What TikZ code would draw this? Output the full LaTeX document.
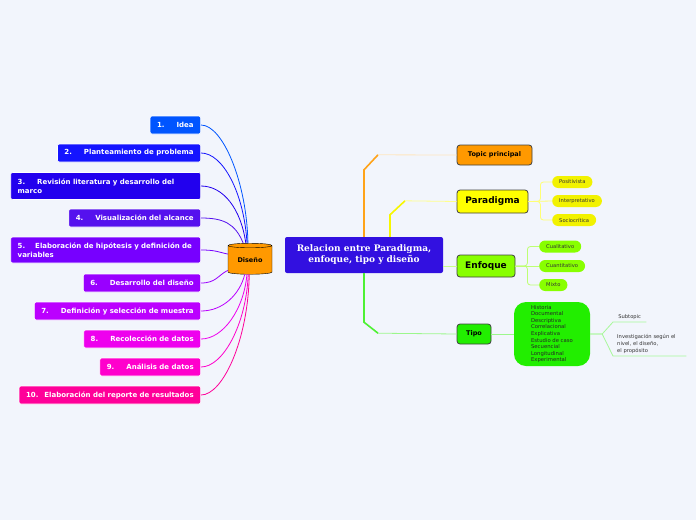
\documentclass[tikz,border=0pt]{standalone}
\usepackage{fontspec}
\setmainfont{DejaVu Sans}
\newfontfamily\mapserif{DejaVu Serif}
\usepackage{tikz}
\usetikzlibrary{arrows.meta,positioning,shapes.geometric}
\definecolor{MapBg}{HTML}{F2F5FC}
\definecolor{MapMain}{HTML}{3210E0}
\definecolor{MapOrange}{HTML}{FF9900}
\definecolor{MapYellow}{HTML}{FFFF00}
\definecolor{MapLime}{HTML}{88FF00}
\definecolor{MapGreen}{HTML}{22EE00}
\definecolor{DisA}{HTML}{0055FF}
\definecolor{DisB}{HTML}{1414FF}
\definecolor{DisC}{HTML}{2200EE}
\definecolor{DisD}{HTML}{5511EE}
\definecolor{DisE}{HTML}{7700FF}
\definecolor{DisF}{HTML}{9900FF}
\definecolor{DisG}{HTML}{BB00FF}
\definecolor{DisH}{HTML}{EE00EE}
\definecolor{DisI}{HTML}{FF00CC}
\definecolor{DisJ}{HTML}{FF0099}

\begin{document}
\begin{tikzpicture}[x=1pt,y=-1pt,
    leftbox/.style={rounded corners=2pt,draw=white,line width=0.6pt,text=white,anchor=east,
      align=left,minimum height=18pt,inner xsep=7pt,font=\fontsize{7}{9}\selectfont\bfseries},
    topicbox/.style={rounded corners=3pt,draw=black!75,line width=0.8pt,align=center,inner sep=0pt},
    pill/.style={rounded corners=6pt,anchor=west,minimum height=12pt,inner xsep=7pt,inner ysep=0pt,
      font=\fontsize{5.2}{6}\selectfont,text=black!80},
    leaf/.style={anchor=south west,align=left,inner xsep=4pt,inner ysep=2pt,
      font=\fontsize{5.2}{7}\selectfont,text=black!80},
    link/.style={line width=0.8pt}
  ]
    \fill[MapBg] (0,0) rectangle (696,520);
    \useasboundingbox (0,0) rectangle (696,520);

    % central topic
    \node[rounded corners=2pt,fill=MapMain,text=white,align=center,minimum width=158pt,minimum height=36pt,
      inner sep=0pt,font=\mapserif\fontsize{9}{11}\selectfont\bfseries] (main) at (364,255)
      {Relacion entre Paradigma,\\enfoque, tipo y diseño};

    % Diseño branch
    \node[cylinder,shape border rotate=90,aspect=0.18,draw=black,fill=MapOrange,minimum width=44pt,
      minimum height=31pt,inner sep=0pt,font=\fontsize{6.5}{8}\selectfont\bfseries] (dis) at (250,260) {Diseño};

    \node[leftbox,fill=DisA] (d1) at (201,125) {1.\hspace{12pt}Idea};
    \node[leftbox,fill=DisB] (d2) at (201,153) {2.\hspace{12pt}Planteamiento de problema};
    \node[leftbox,fill=DisC,text width=176pt,minimum height=27pt] (d3) at (201,186)
      {\mbox{3.\hspace{12pt}Revisión literatura y desarrollo del}\\marco};
    \node[leftbox,fill=DisD] (d4) at (201,218) {4.\hspace{12pt}Visualización del alcance};
    \node[leftbox,fill=DisE,text width=176pt,minimum height=26pt] (d5) at (201,250)
      {\mbox{5.\hspace{10pt}Elaboración de hipótesis y definición de}\\variables};
    \node[leftbox,fill=DisF] (d6) at (201,283) {6.\hspace{12pt}Desarrollo del diseño};
    \node[leftbox,fill=DisG] (d7) at (201,311) {7.\hspace{12pt}Definición y selección de muestra};
    \node[leftbox,fill=DisH] (d8) at (201,339) {8.\hspace{12pt}Recolección de datos};
    \node[leftbox,fill=DisI] (d9) at (201,367) {9.\hspace{12pt}Análisis de datos};
    \node[leftbox,fill=DisJ] (d10) at (201,395) {10.\hspace{6pt}Elaboración del reporte de resultados};

    \draw[link,DisA] (d1.east) .. controls +(22,0) and +(-1,-60) .. (dis.97);
    \draw[link,DisB] (d2.east) .. controls +(22,0) and +(-3,-50) .. (dis.100);
    \draw[link,DisC] (d3.east) .. controls +(22,0) and +(-5,-35) .. (dis.104);
    \draw[link,DisD] (d4.east) .. controls +(22,0) and +(-8,-20) .. (dis.112);
    \draw[link,DisE] (d5.east) .. controls +(15,0) and +(-10,-2) .. (dis.165);
    \draw[link,DisF] (d6.east) .. controls +(15,0) and +(-10,5) .. (dis.205);
    \draw[link,DisG] (d7.east) .. controls +(22,0) and +(-5,20) .. (dis.250);
    \draw[link,DisH] (d8.east) .. controls +(22,0) and +(-3,35) .. (dis.258);
    \draw[link,DisI] (d9.east) .. controls +(22,0) and +(-2,50) .. (dis.263);
    \draw[link,DisJ] (d10.east) .. controls +(22,0) and +(-1,65) .. (dis.267);

    % right branches
    \node[topicbox,fill=MapOrange,minimum width=75pt,minimum height=20pt,
      font=\fontsize{6.5}{8}\selectfont\bfseries] (topic) at (494.5,155) {Topic principal};
    \node[topicbox,fill=MapYellow,minimum width=71pt,minimum height=23pt,
      font=\fontsize{9}{11}\selectfont\bfseries] (para) at (492.5,201.5) {Paradigma};
    \node[topicbox,fill=MapLime,minimum width=58pt,minimum height=22pt,
      font=\fontsize{9}{11}\selectfont\bfseries] (enf) at (486,266) {Enfoque};
    \node[topicbox,fill=MapGreen,minimum width=34pt,minimum height=20pt,
      font=\fontsize{6.5}{8}\selectfont\bfseries] (tipo) at (474,334) {Tipo};

    \draw[line width=1.6pt,color=MapOrange!90] (main.north) -- ++(0,-67) -- ++(14,-15);
    \draw[link,color=MapOrange!25] ([xshift=14pt,yshift=82pt]main.north) -- (topic.west);
    \draw[line width=1.6pt,color=MapYellow!97!black] ([xshift=26pt]main.north) -- ++(0,-22) -- ++(15,-14);
    \draw[link,color=MapYellow!45] ([xshift=41pt,yshift=36pt]main.north) -- (para.west);
    \draw[link,color=MapLime!45] (enf.west -| main.east) -- (enf.west);
    \draw[line width=1.6pt,color=MapGreen!80!white] (main.south) -- ++(0,49) -- ++(14,11);
    \draw[link,color=MapGreen!45] ([xshift=14pt,yshift=-60pt]main.south) -- (tipo.west);

    % Paradigma children
    \node[pill,fill=MapYellow!95!black] (pos) at (552,182) {Positivista};
    \node[pill,fill=MapYellow!95!black] (inter) at (552,201) {Interpretativo};
    \node[pill,fill=MapYellow!95!black] (socio) at (552,220) {Sociocrítica};
    \draw[link,color=MapYellow!55,rounded corners=3pt] (para.east) -- ++(12,0) |- (pos.west);
    \draw[link,color=MapYellow!55] (para.east) -- (inter.west);
    \draw[link,color=MapYellow!55,rounded corners=3pt] (para.east) -- ++(12,0) |- (socio.west);

    % Enfoque children
    \node[pill,fill=MapLime] (cual) at (539,246.5) {Cualitativo};
    \node[pill,fill=MapLime] (cuan) at (539,266) {Cuantitativo};
    \node[pill,fill=MapLime] (mixto) at (539,285) {Mixto};
    \draw[link,color=MapLime!55,rounded corners=3pt] (enf.east) -- ++(12,0) |- (cual.west);
    \draw[link,color=MapLime!55] (enf.east) -- (cuan.west);
    \draw[link,color=MapLime!55,rounded corners=3pt] (enf.east) -- ++(12,0) |- (mixto.west);

    % Tipo children
    \node[rounded corners=12pt,fill=MapGreen,minimum width=76pt,minimum height=64pt,align=left,
      inner sep=0pt,font=\fontsize{5.3}{6.6}\selectfont,text=black!85] (tlist) at (552,334)
      {Historia\\Documental\\Descriptiva\\Correlacional\\Explicativa\\Estudio de caso\\Secuencial\\Longitudinal\\Experimental};
    \draw[link,color=MapGreen!45] (tipo.east) -- (tlist.west);

    \node[leaf,minimum width=33pt] (sub) at (613,322) {Subtopic};
    \node[leaf,text width=65pt] (inv) at (613,356) {Investigación según el\\nivel, el diseño,\\el propósito};
    \draw[link,color=MapGreen!40] (tlist.east) -- ++(12,0) -- (sub.south west) -- (sub.south east);
    \draw[link,color=MapGreen!40] (tlist.east) -- ++(12,0) -- (inv.south west) -- (inv.south east);
  \end{tikzpicture}
\end{document}
